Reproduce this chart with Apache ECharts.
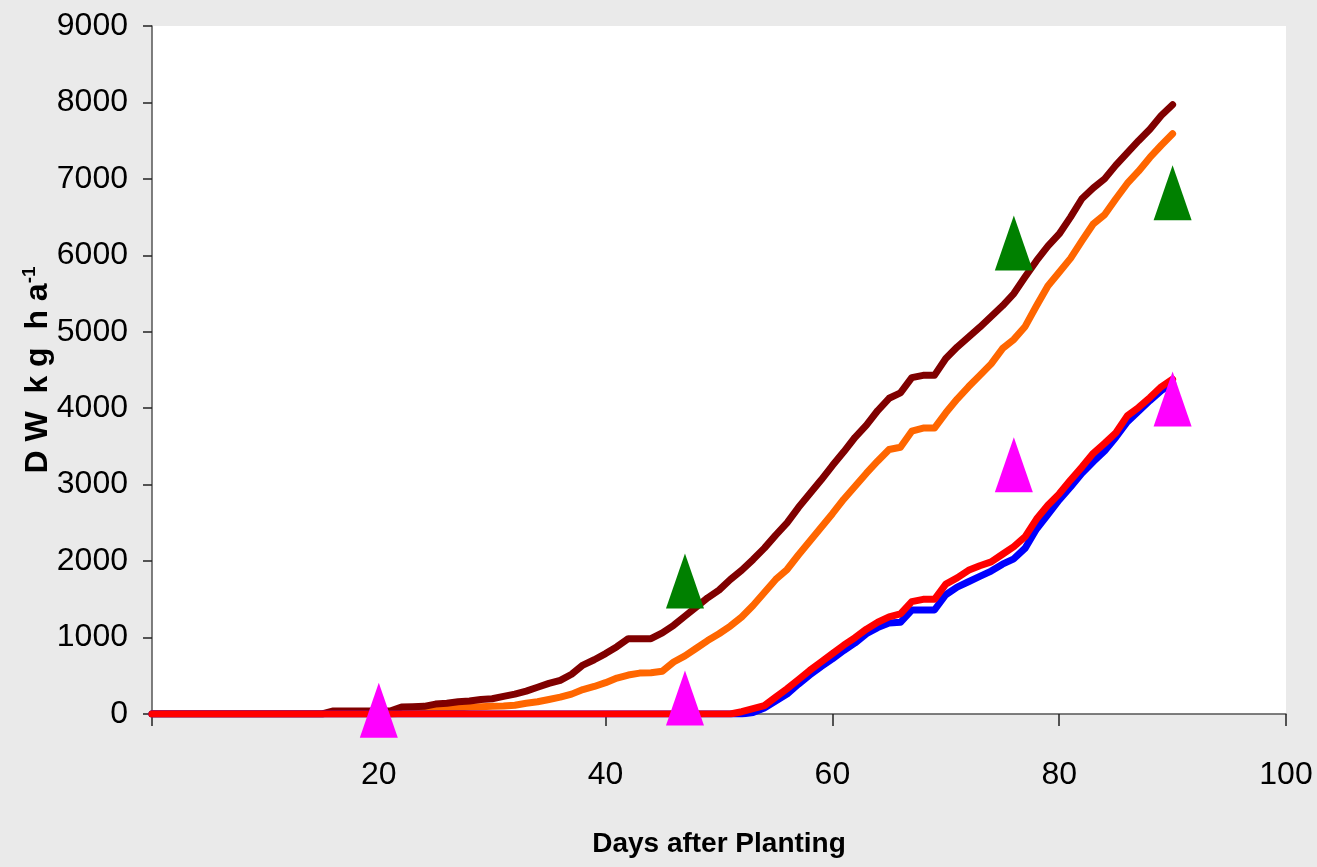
<!DOCTYPE html>
<html>

	<head>
		<meta charset="UTF-8">
		<title></title>
		<script src="https://cdn.jsdelivr.net/npm/echarts@6/dist/echarts.min.js"></script>
		<style>
			html,
			body {
				width: 100%;
				height: 100%;
				margin: 0;
				padding: 0;
				background: #EAEAEA;
			}
			
			.echart {
				width: 1317px;
				height: 867px;
			}
		</style>
	</head>

	<body>
		<div class="echart" id="chart"></div>
	</body>
	<script>
		// days after planting, 0..90
		var days = [];
		for(var d = 0; d <= 90; d++) days.push(d);

		var darkRedDW = [0, 0, 0, 0, 0, 0, 0, 0, 0, 0,
			0, 0, 0, 0, 0, 0, 40, 40, 40, 40,
			40, 40, 90, 95, 100, 130, 140, 160, 170, 190,
			200, 230, 260, 300, 350, 400, 440, 520, 640, 710,
			790, 880, 985, 985, 985, 1060, 1160, 1280, 1400, 1520,
			1620, 1760, 1880, 2020, 2170, 2340, 2500, 2700, 2880, 3060,
			3250, 3430, 3620, 3780, 3970, 4130, 4200, 4400, 4430, 4430,
			4650, 4800, 4930, 5060, 5200, 5340, 5500, 5720, 5930, 6120,
			6280, 6500, 6740, 6880, 7000, 7180, 7340, 7500, 7650, 7830,
			7970
		];
		var orangeDW = [0, 0, 0, 0, 0, 0, 0, 0, 0, 0,
			0, 0, 0, 0, 0, 0, 0, 0, 0, 0,
			0, 0, 10, 20, 30, 50, 70, 80, 90, 95,
			100, 105, 115, 140, 160, 190, 220, 260, 320, 360,
			410, 470, 510, 535, 540, 560, 680, 760, 860, 960,
			1050, 1150, 1270, 1420, 1590, 1760, 1890, 2080, 2260, 2440,
			2620, 2810, 2980, 3150, 3310, 3460, 3490, 3700, 3740, 3740,
			3940, 4120, 4280, 4430, 4580, 4780, 4900, 5070, 5340, 5600,
			5780, 5960, 6190, 6410, 6530, 6740, 6940, 7100, 7280, 7440,
			7590
		];
		var blueDW = [0, 0, 0, 0, 0, 0, 0, 0, 0, 0,
			0, 0, 0, 0, 0, 0, 0, 0, 0, 0,
			0, 0, 0, 0, 0, 0, 0, 0, 0, 0,
			0, 0, 0, 0, 0, 0, 0, 0, 0, 0,
			0, 0, 0, 0, 0, 0, 0, 0, 0, 0,
			0, 0, 0, 20, 80, 170, 260, 390, 510, 620,
			720, 830, 930, 1050, 1130, 1190, 1200, 1360, 1360, 1360,
			1560, 1660, 1730, 1800, 1870, 1960, 2030, 2170, 2420, 2610,
			2800, 2970, 3150, 3300, 3440, 3620, 3820, 3960, 4100, 4230,
			4330
		];
		var redDW = [0, 0, 0, 0, 0, 0, 0, 0, 0, 0,
			0, 0, 0, 0, 0, 0, 0, 0, 0, 0,
			0, 0, 0, 0, 0, 0, 0, 0, 0, 0,
			0, 0, 0, 0, 0, 0, 0, 0, 0, 0,
			0, 0, 0, 0, 0, 0, 0, 0, 0, 0,
			0, 0, 30, 70, 110, 220, 330, 450, 570, 680,
			790, 900, 1000, 1110, 1200, 1270, 1310, 1470, 1500, 1500,
			1700, 1780, 1880, 1940, 1990, 2090, 2190, 2320, 2550, 2730,
			2880, 3060, 3230, 3410, 3540, 3680, 3900, 4010, 4140, 4280,
			4380
		];

		// observed points
		var greenDays = [47, 76, 90];
		var greenDW = [1740, 6160, 6820];
		var pinkDays = [20, 47, 76, 90];
		var pinkDW = [50, 210, 3260, 4120];

		var xTicks = [0, 20, 40, 60, 80, 100];
		var yMax = 9000;

		var FONT = '"Liberation Sans", Arial, sans-serif';

		function pairs(xs, ys) {
			var out = [];
			for(var i = 0; i < xs.length; i++) out.push([xs[i], ys[i]]);
			return out;
		}

		function lineSeries(name, values, color, z) {
			return {
				name: name,
				type: 'line',
				data: pairs(days, values),
				showSymbol: false,
				symbol: 'none',
				z: z,
				lineStyle: {
					color: color,
					width: 7,
					cap: 'round',
					join: 'round'
				},
				animation: false
			};
		}

		function markSeries(xs, ys, color) {
			return {
				type: 'scatter',
				data: pairs(xs, ys),
				symbol: 'triangle',
				symbolSize: [38, 55],
				z: 10,
				itemStyle: {
					color: color,
					opacity: 1
				},
				animation: false
			};
		}

		var myChart = echarts.init(document.getElementById('chart'));
		var option = {
			backgroundColor: '#EAEAEA',
			grid: {
				left: 152,
				right: 31,
				top: 26,
				bottom: 153,
				containLabel: false,
				outerBoundsMode: 'none',
				show: true,
				backgroundColor: '#FFFFFF',
				borderWidth: 0
			},
			xAxis: {
				type: 'value',
				min: xTicks[0],
				max: xTicks[xTicks.length - 1],
				interval: 20,
				splitLine: { show: false },
				axisLine: { lineStyle: { color: '#555', width: 1.5 } },
				axisTick: { show: true, length: 12, lineStyle: { color: '#222', width: 1.5 } },
				axisLabel: {
					margin: 45,
					color: '#000',
					fontSize: 32,
					fontFamily: FONT,
					formatter: function(v) { return v === 0 ? '' : String(v); }
				},
				name: 'Days after Planting',
				nameLocation: 'middle',
				nameGap: 116,
				nameMoveOverlap: false,
				nameTextStyle: {
					color: '#000',
					fontSize: 28,
					fontWeight: 'bold',
					fontFamily: FONT
				}
			},
			yAxis: {
				type: 'value',
				min: 0,
				max: yMax,
				interval: 1000,
				splitLine: { show: false },
				axisLine: { show: true, lineStyle: { color: '#555', width: 1.5 } },
				axisTick: { show: true, length: 9, lineStyle: { color: '#222', width: 1.5 } },
				axisLabel: {
					margin: 24,
					color: '#000',
					fontSize: 32,
					fontFamily: FONT,
					formatter: function(v) { return String(v); }
				},
				name: '{m|D W  k g  h a}{s|-1}',
				nameLocation: 'middle',
				nameGap: 96,
				nameRotate: 90,
				nameMoveOverlap: false,
				nameTextStyle: {
					rich: {
						m: {
							color: '#000',
							fontSize: 32,
							lineHeight: 36,
							fontWeight: 'bold',
							fontFamily: FONT
						},
						s: {
							color: '#000',
							fontSize: 19,
							lineHeight: 36,
							verticalAlign: 'top',
							fontWeight: 'bold',
							fontFamily: FONT
						}
					}
				}
			},
			series: [
				lineSeries('orange', orangeDW, '#FF6600', 2),
				lineSeries('darkred', darkRedDW, '#800000', 3),
				lineSeries('blue', blueDW, '#0000FF', 4),
				lineSeries('red', redDW, '#FF0000', 5),
				markSeries(greenDays, greenDW, '#008000'),
				markSeries(pinkDays, pinkDW, '#FF00FF')
			]
		};
		myChart.setOption(option);
	</script>

</html>
